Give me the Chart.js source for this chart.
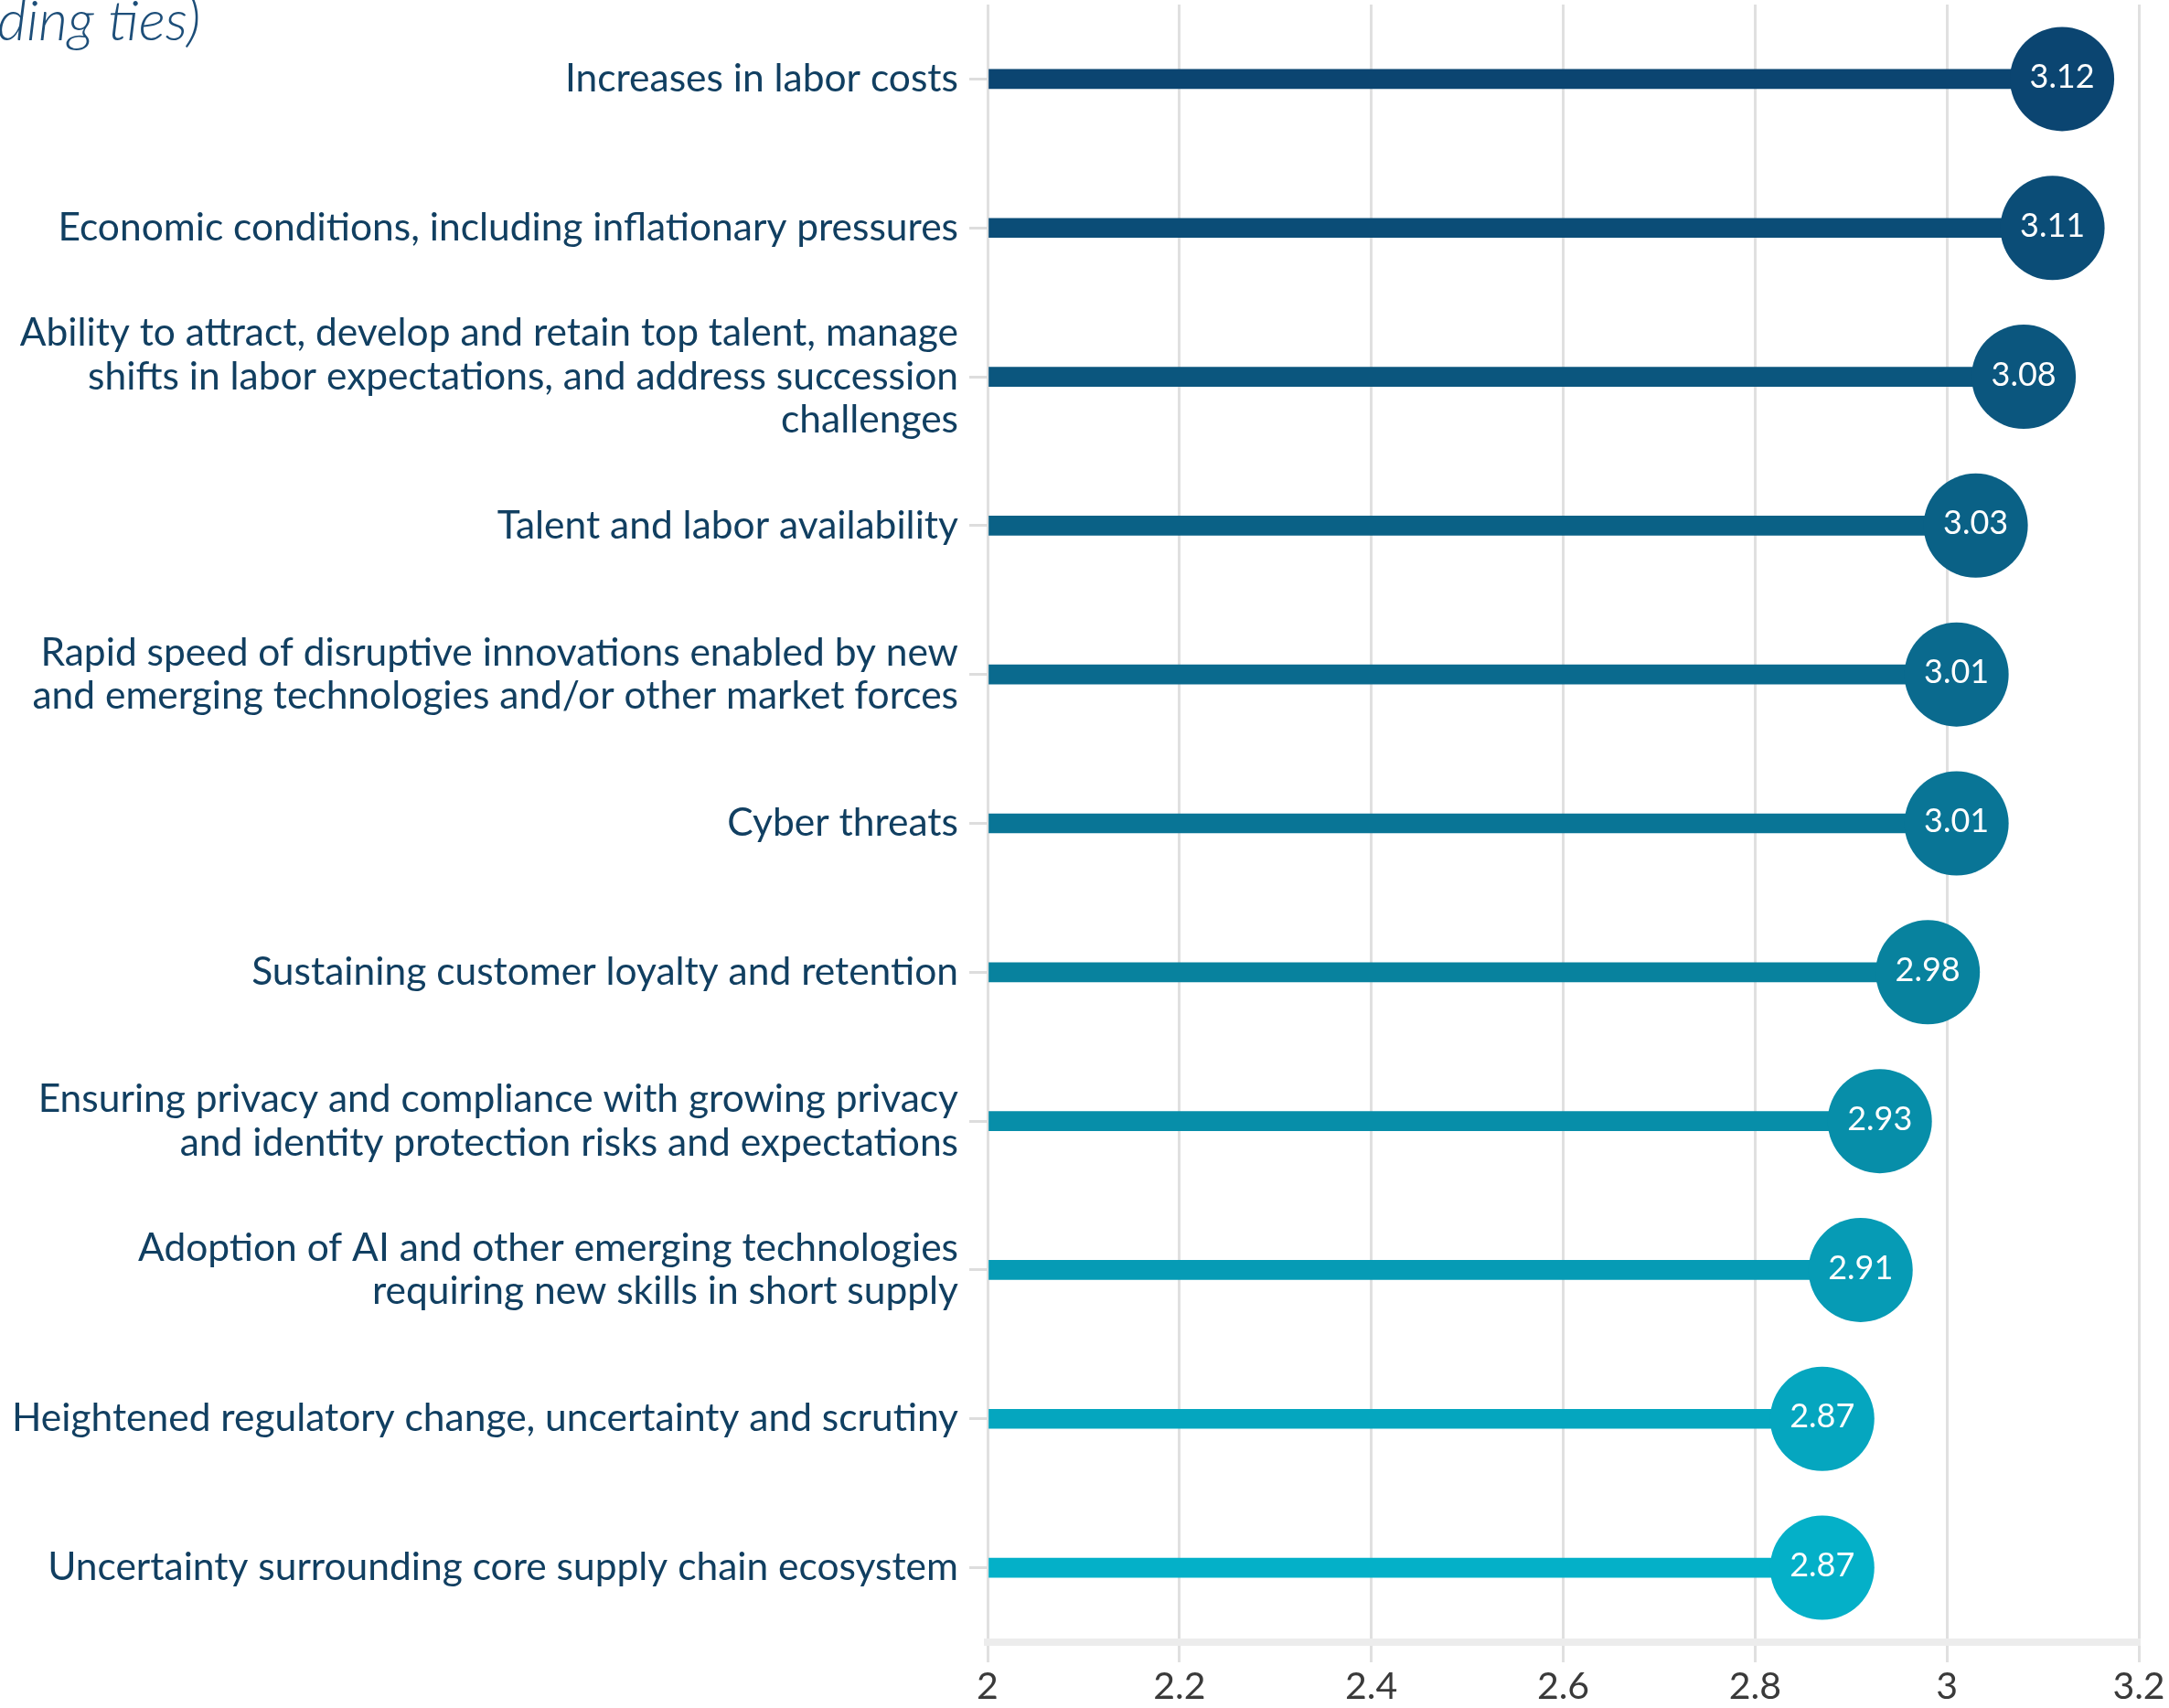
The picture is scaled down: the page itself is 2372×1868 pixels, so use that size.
<!DOCTYPE html>
<html>
<head>
<meta charset="utf-8">
<script src="https://cdn.jsdelivr.net/npm/chart.js@4/dist/chart.umd.min.js"></script>
<style>
  html, body { margin: 0; padding: 0; background: #ffffff; }
  #wrap { width: 2372px; height: 1868px; position: relative; }
</style>
</head>
<body>
<div id="wrap"><canvas id="chart"></canvas></div>
<script>
// Chart data
const categories = [
  'Increases in labor costs',
  'Economic conditions, including inflationary pressures',
  ['Ability to attract, develop and retain top talent, manage', 'shifts in labor expectations, and address succession', 'challenges'],
  'Talent and labor availability',
  ['Rapid speed of disruptive innovations enabled by new', 'and emerging technologies and/or other market forces'],
  'Cyber threats',
  'Sustaining customer loyalty and retention',
  ['Ensuring privacy and compliance with growing privacy', 'and identity protection risks and expectations'],
  ['Adoption of AI and other emerging technologies', 'requiring new skills in short supply'],
  'Heightened regulatory change, uncertainty and scrutiny',
  'Uncertainty surrounding core supply chain ecosystem'
];
const scores = [3.12, 3.11, 3.08, 3.03, 3.01, 3.01, 2.98, 2.93, 2.91, 2.87, 2.87];
const axisMin = 2;
const axisMax = 3.2;
const axisStep = 0.2;
const titleFragment = 'ding ties)';

// Row colours, dark navy at the top fading to cyan
const rowColors = [
  '#0b4571', '#0b4d77', '#0b567e', '#0a6186', '#0a6a8e', '#097596',
  '#08829e', '#078ea9', '#069bb5', '#05a6bf', '#04b0c8'
];

const textColor = '#113f61';

// Draws the values inside the circles and the clipped title line
const valueLabels = {
  id: 'valueLabels',
  afterDatasetsDraw(chart) {
    const ctx = chart.ctx;
    const meta = chart.getDatasetMeta(1);
    ctx.save();
    ctx.fillStyle = '#ffffff';
    ctx.font = '36px Lato';
    ctx.textAlign = 'center';
    ctx.textBaseline = 'middle';
    meta.data.forEach((pt, i) => {
      ctx.fillText(scores[i].toFixed(2), pt.x, pt.y - 2);
    });
    ctx.restore();
  },
  afterDraw(chart) {
    const ctx = chart.ctx;
    ctx.save();
    ctx.fillStyle = '#1d4e79';
    ctx.font = 'italic 300 62px Lato';
    ctx.textAlign = 'left';
    ctx.textBaseline = 'alphabetic';
    ctx.fillText(titleFragment, -3, 44);
    ctx.restore();
  }
};

const ctx = document.getElementById('chart').getContext('2d');
new Chart(ctx, {
  data: {
    labels: categories,
    datasets: [
      {
        type: 'bar',
        data: scores,
        base: axisMin,
        backgroundColor: rowColors,
        borderWidth: 0,
        barThickness: 21,
        order: 2
      },
      {
        type: 'line',
        data: scores,
        showLine: false,
        clip: false,
        pointRadius: 57,
        pointHoverRadius: 57,
        pointBorderWidth: 0,
        pointBackgroundColor: rowColors,
        order: 1
      }
    ]
  },
  options: {
    indexAxis: 'y',
    responsive: true,
    maintainAspectRatio: false,
    animation: false,
    layout: {
      autoPadding: false,
      padding: { top: 5, right: 0, left: 0, bottom: 0 }
    },
    plugins: {
      legend: { display: false },
      tooltip: { enabled: false }
    },
    scales: {
      x: {
        type: 'linear',
        min: axisMin,
        max: axisMax,
        ticks: {
          stepSize: axisStep,
          color: '#3a3a3a',
          font: { family: 'Lato', size: 41 },
          padding: 2,
          callback: (value) => String(Math.round(value * 10) / 10)
        },
        grid: {
          color: '#e0e0e0',
          lineWidth: 3,
          tickLength: 22
        },
        border: {
          color: '#ececec',
          width: 8
        },
        afterFit(scale) {
          scale.height = 72;
          scale.paddingLeft = 0;
          scale.paddingRight = 33;
        }
      },
      y: {
        type: 'category',
        offset: true,
        ticks: {
          autoSkip: false,
          color: textColor,
          font: { family: 'Lato', size: 42.5, lineHeight: 1.12 },
          padding: 12
        },
        grid: {
          offset: false,
          drawOnChartArea: false,
          drawTicks: true,
          tickLength: 20,
          color: '#dddddd',
          lineWidth: 3
        },
        border: { display: false },
        afterFit(scale) {
          scale.width = 1080;
          scale.paddingTop = 0;
          scale.paddingBottom = 0;
        }
      }
    }
  },
  plugins: [valueLabels]
});
</script>
</body>
</html>
